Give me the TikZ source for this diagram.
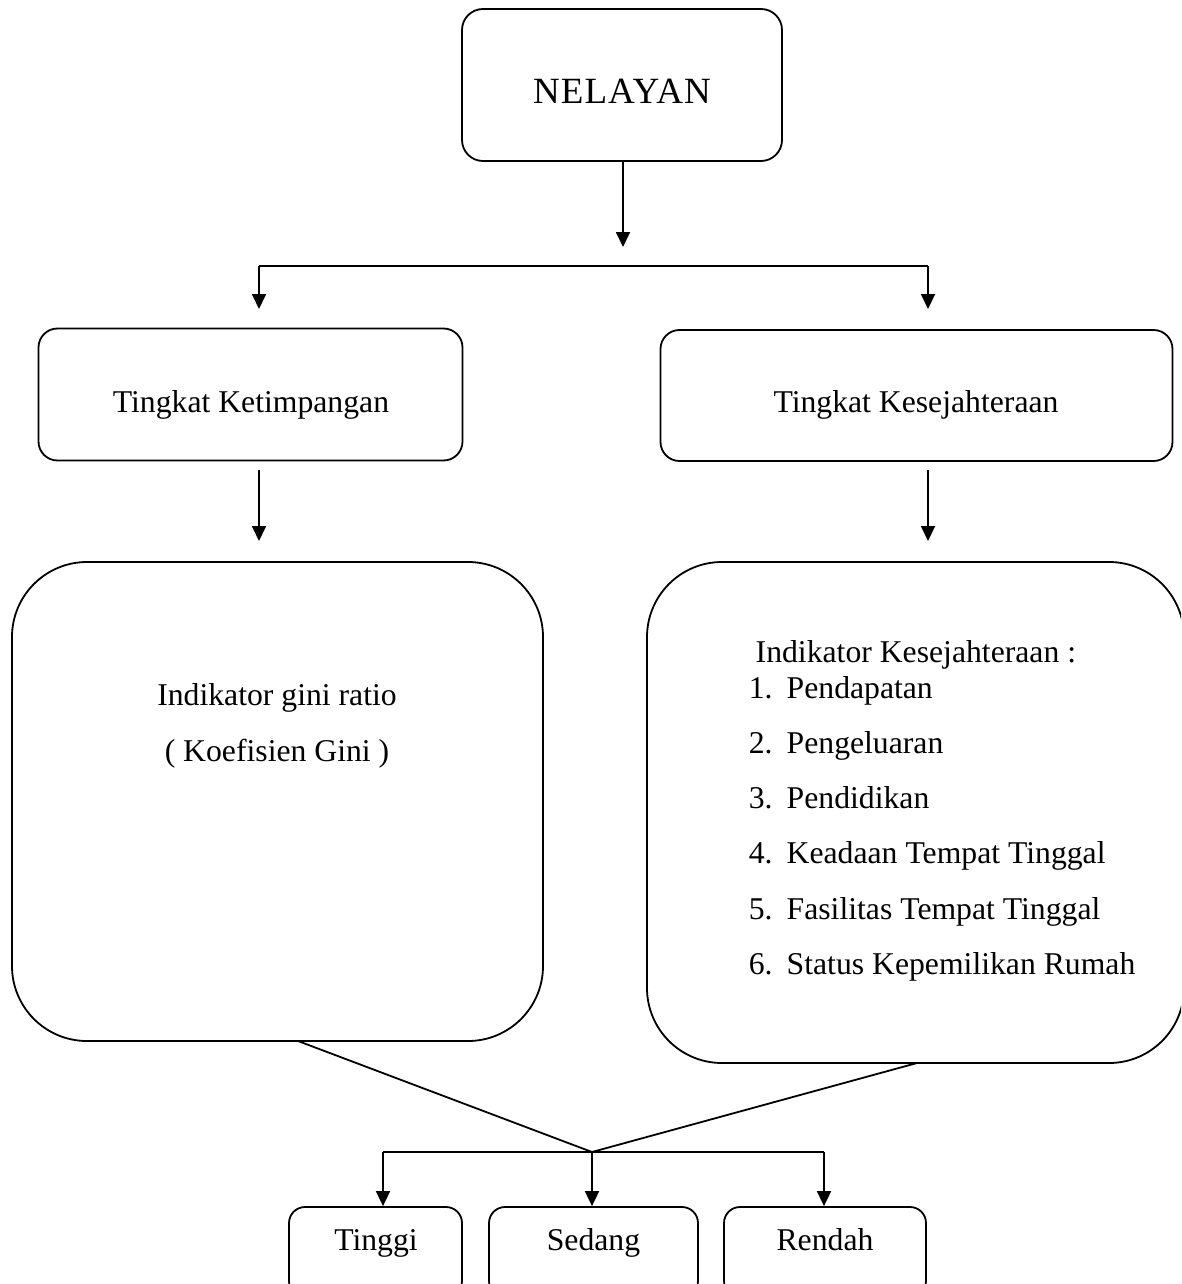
\documentclass[tikz,border=0pt]{standalone}
\usepackage{fontspec}
\setmainfont{Liberation Serif}
\usetikzlibrary{arrows.meta}
\begin{document}
\begin{tikzpicture}[x=1pt,y=-1pt,
  box/.style={draw, line width=1.8pt, rounded corners=#1, inner sep=0pt},
  box/.default=20pt,
  lbl/.style={font=\fontsize{31.7}{38}\selectfont, inner sep=0pt, anchor=base},
  lblw/.style={lbl, anchor=base west},
  con/.style={line width=1.8pt},
  arr/.style={con, -{Triangle[length=15pt,width=14pt]}}]
\useasboundingbox (0,0) rectangle (1181,1284);
\clip (0,0) rectangle (1181,1284);

% boxes
\node[box=21pt, minimum width=320pt, minimum height=152pt] (nel) at (622,85) {};
\node[box=19pt, minimum width=424pt, minimum height=132pt] (tk) at (250.5,394.5) {};
\node[box=19pt, minimum width=512pt, minimum height=131pt] (ts) at (916.5,395.5) {};
\node[box=75pt, minimum width=531pt, minimum height=479pt] (gl) at (277.5,801.5) {};
\node[box=75pt, minimum width=537pt, minimum height=501pt] (gr) at (915.5,812.5) {};
\node[box=16pt, minimum width=173pt, minimum height=90pt] (ti) at (375.5,1252) {};
\node[box=16pt, minimum width=209pt, minimum height=90pt] (se) at (593.5,1252) {};
\node[box=16pt, minimum width=202pt, minimum height=90pt] (re) at (825,1252) {};

% texts
\node[lbl, font=\fontsize{37}{42}\selectfont\addfontfeatures{LetterSpace=3}] (tnel) at (622,104) {NELAYAN};
\node[lbl] (ttk) at (251,412) {Tingkat Ketimpangan};
\node[lbl] (tts) at (916,412) {Tingkat Kesejahteraan};
\node[lbl] (tg1) at (277,705) {Indikator gini ratio};
\node[lbl] (tg2) at (277,761) {( Koefisien Gini )};
\node[lblw] (tind) at (755.5,662) {Indikator Kesejahteraan :};
\foreach \n/\t/\y in {1/Pendapatan/698, 2/Pengeluaran/753, 3/Pendidikan/808, 4/Keadaan Tempat Tinggal/863, 5/Fasilitas Tempat Tinggal/919, 6/Status Kepemilikan Rumah/974}{
  \node[lblw] (num\n) at (748.6,\y) {\n.};
  \node[lblw] (it\n) at (786.5,\y) {\t};
}
\node[lbl] (tti) at (376,1250) {Tinggi};
\node[lbl] (tse) at (593.5,1250) {Sedang};
\node[lbl] (tre) at (825,1250) {Rendah};

% connectors
\coordinate (a1) at (623,247);
\coordinate (hl) at (259,266);
\coordinate (hr) at (928,266);
\coordinate (hlt) at (259,309);
\coordinate (hrt) at (928,309);
\coordinate (b1s) at (259,470);
\coordinate (b1e) at (259,541);
\coordinate (b2s) at (928,470);
\coordinate (b2e) at (928,541);
\coordinate (gls) at (298,1041);
\coordinate (grs) at (917,1063);
\coordinate (j) at (592,1152);
\coordinate (jl) at (383,1152);
\coordinate (jr) at (824,1152);

\draw[arr] (nel.south -| a1) -- (a1);
\draw[con] (hl) -- (hr);
\draw[arr] (hl) -- (hlt);
\draw[arr] (hr) -- (hrt);
\draw[arr] (b1s) -- (b1e);
\draw[arr] (b2s) -- (b2e);
\draw[con] (gls) -- (j);
\draw[con] (grs) -- (j);
\draw[con] (jl) -- (jr);
\draw[arr] (jl) -- (jl |- ti.north);
\draw[arr] (j) -- (j |- se.north);
\draw[arr] (jr) -- (jr |- re.north);
\end{tikzpicture}
\end{document}
